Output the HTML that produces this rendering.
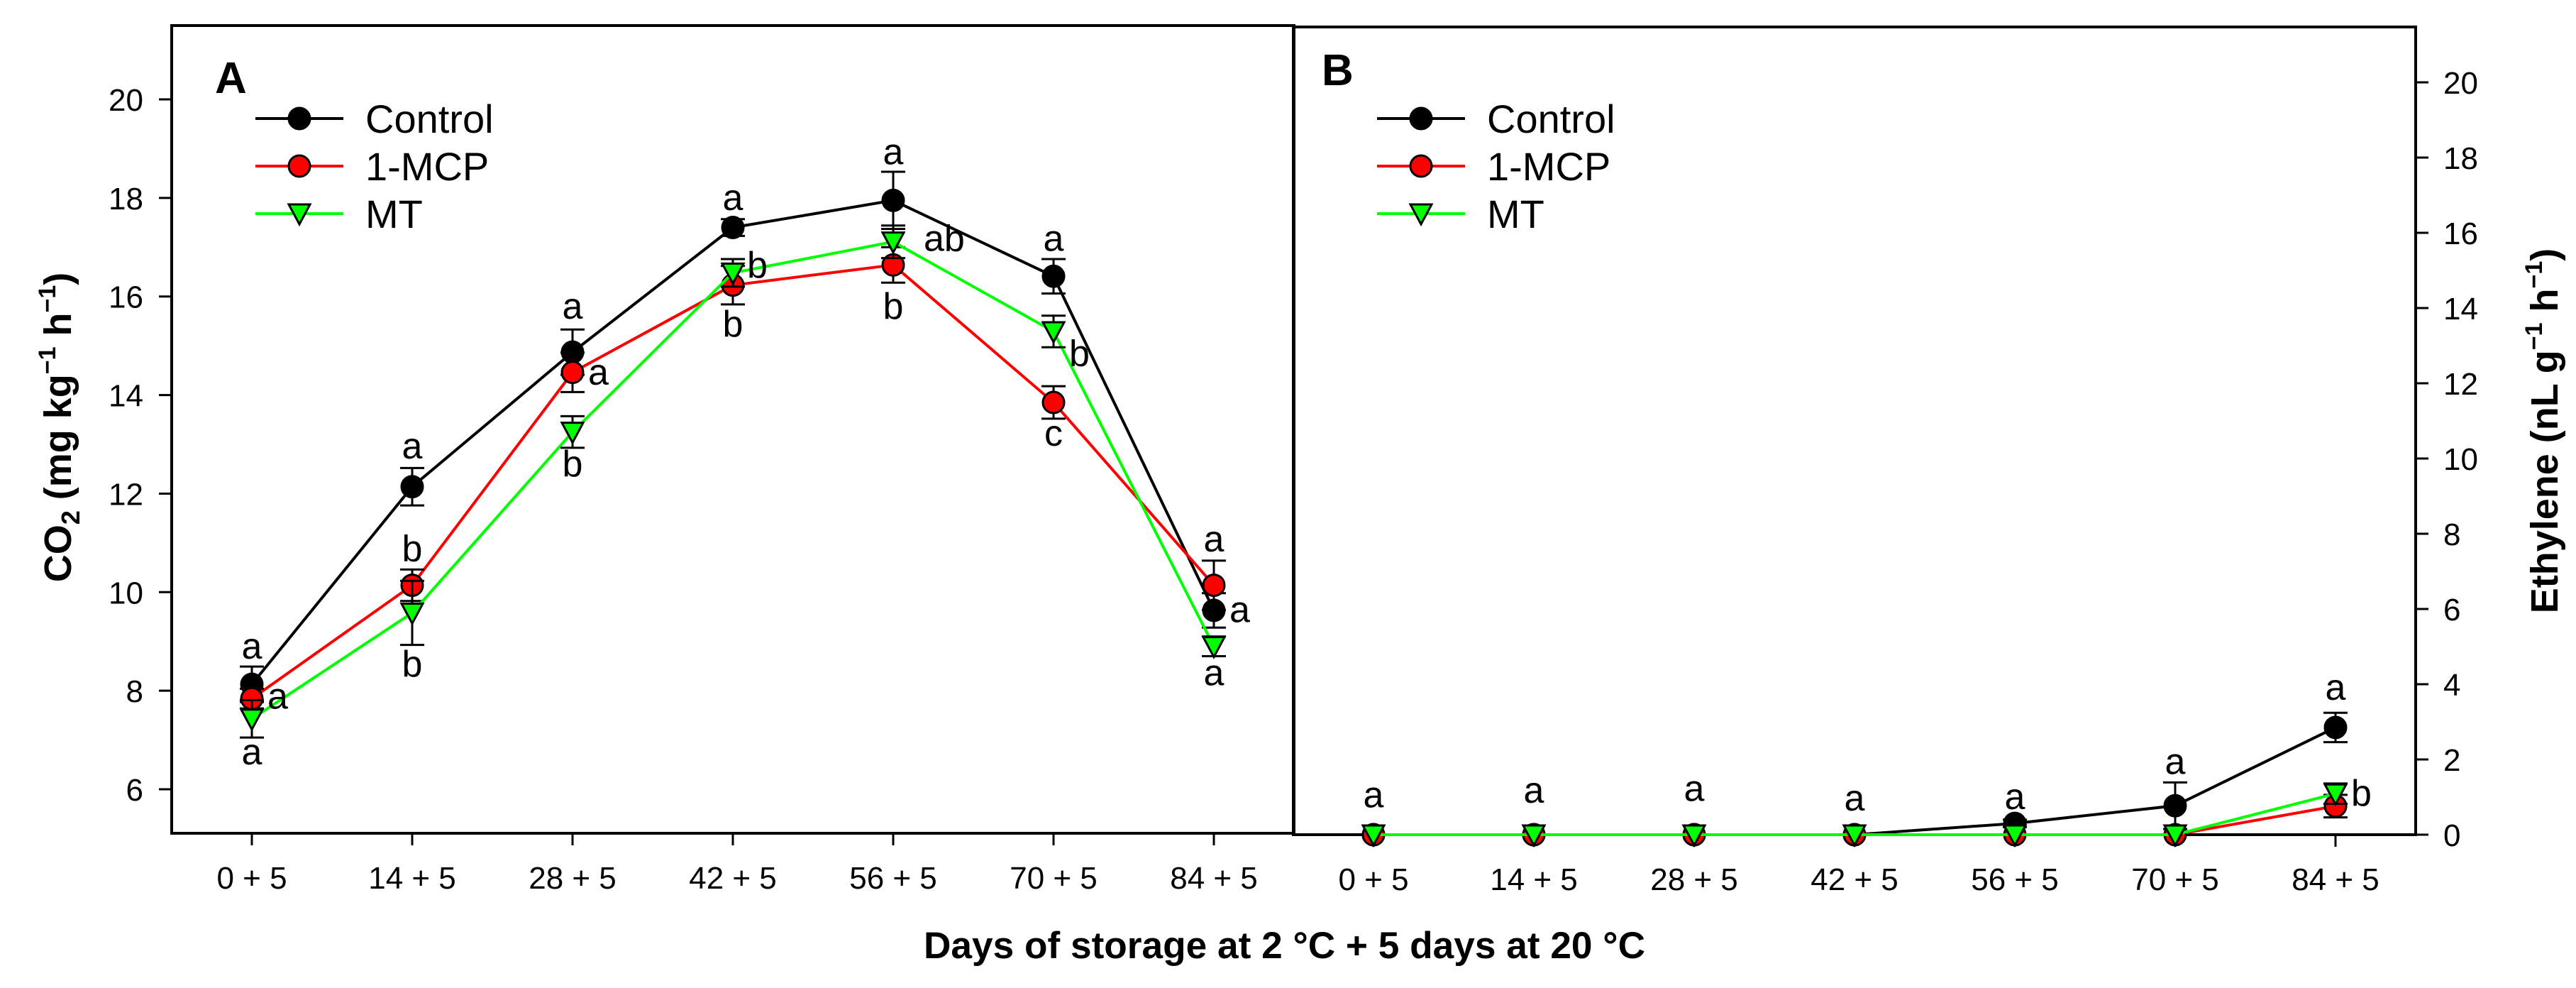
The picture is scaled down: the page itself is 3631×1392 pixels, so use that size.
<!DOCTYPE html>
<html><head><meta charset="utf-8"><style>html,body{margin:0;padding:0;background:#fff}svg{display:block}</style></head>
<body>
<svg id="chart" xmlns="http://www.w3.org/2000/svg" width="3631" height="1392" viewBox="0 0 3631 1392" font-family="Liberation Sans, sans-serif">
<rect x="0" y="0" width="3631" height="1392" fill="#fff"/>
<g id="axes"></g>
<g id="series"></g>
<g id="labels"></g>
</svg>
<script>
const categories = ["0 + 5","14 + 5","28 + 5","42 + 5","56 + 5","70 + 5","84 + 5"];
// Panel A: CO2
const co2Control = [8.13,12.14,14.87,17.40,17.95,16.41,9.63];
const co2ControlErr = [0.36,0.38,0.46,0.17,0.58,0.35,0.35];
const co2Mcp = [7.84,10.14,14.46,16.23,16.64,13.85,10.14];
const co2McpErr = [0.2,0.32,0.4,0.39,0.36,0.33,0.5];
const co2Mt = [7.43,9.58,13.25,16.48,17.11,15.29,8.90];
const co2MtErr = [0.38,0.65,0.32,0.28,0.33,0.32,0.2];
const co2Ticks = [6,8,10,12,14,16,18,20];
// letter labels: [category index, value, dx, text]
const co2Letters = [[0,8.84,0,"a"],[0,7.82,36,"a"],[0,6.69,0,"a"],
 [1,12.9,0,"a"],[1,10.82,0,"b"],[1,8.48,0,"b"],
 [2,15.74,0,"a"],[2,14.4,36,"a"],[2,12.54,0,"b"],
 [3,17.94,0,"a"],[3,16.57,34,"b"],[3,15.38,0,"b"],
 [4,18.87,0,"a"],[4,17.11,57,"ab"],[4,15.74,0,"b"],
 [5,17.11,0,"a"],[5,14.78,36,"b"],[5,13.16,0,"c"],
 [6,11.01,0,"a"],[6,9.58,36,"a"],[6,8.3,0,"a"]];
// Panel B: Ethylene
const ethControl = [0,0,0,0,0.30,0.77,2.85];
const ethControlErr = [0,0,0,0,0.1,0.62,0.39];
const ethMcp = [0,0,0,0,0,0,0.76];
const ethMcpErr = [0,0,0,0,0,0,0.3];
const ethMt = [0,0,0,0,0,0,1.09];
const ethMtErr = [0,0,0,0,0,0,0.27];
const ethTicks = [0,2,4,6,8,10,12,14,16,18,20];
const ethLetters = [[0,0.97,0,"a"],[1,1.09,0,"a"],[2,1.14,0,"a"],[3,0.89,0,"a"],[4,0.92,0,"a"],[5,1.86,0,"a"],[6,3.83,0,"a"],[6,1.02,36,"b"]];

const NS="http://www.w3.org/2000/svg";
function mk(parent,tag,attrs,text){const e=document.createElementNS(NS,tag);for(const k in attrs)e.setAttribute(k,attrs[k]);if(text!==undefined)e.textContent=text;parent.appendChild(e);return e;}
const axes=document.getElementById('axes'),series=document.getElementById('series'),labels=document.getElementById('labels');

const A={x0:242,x1:1824,y0:36,y1:1174,cx0:355,step:226,yv:v=>140+(20-v)*69.43};
const B={x0:1823,x1:3405,y0:38,y1:1176,cx0:1936,step:226,yv:v=>1176-v*53};
function xA(i){return A.cx0+i*A.step;}
function xB(i){return B.cx0+i*B.step;}

function frame(P,name){
  const r=mk(axes,'rect',{x:P.x0,y:P.y0,width:P.x1-P.x0,height:P.y1-P.y0,fill:'none',stroke:'#000','stroke-width':4});
  
  
}
frame(A,'panel-a-frame');frame(B,'panel-b-frame');

// x ticks
function xTicks(P,xf,name){
  categories.forEach((c,i)=>{
    const x=xf(i);
    const t=mk(axes,'line',{x1:x,y1:P.y1,x2:x,y2:P.y1+17,stroke:'#000','stroke-width':3});
    
    
    const l=mk(axes,'text',{x:x,y:P.y1+78,'font-size':44,'text-anchor':'middle'},c);
    
    
  });
}
xTicks(A,xA,'x-axis-a');xTicks(B,xB,'x-axis-b');

co2Ticks.forEach(v=>{
  const y=A.yv(v);
  const t=mk(axes,'line',{x1:A.x0-18,y1:y,x2:A.x0,y2:y,stroke:'#000','stroke-width':3});
  
  
  const l=mk(axes,'text',{x:202,y:y+16,'font-size':44,'text-anchor':'end'},String(v));
  
  
});
ethTicks.forEach(v=>{
  const y=B.yv(v);
  const t=mk(axes,'line',{x1:B.x1,y1:y,x2:B.x1+18,y2:y,stroke:'#000','stroke-width':3});
  
  
  const l=mk(axes,'text',{x:3444,y:y+16,'font-size':44,'text-anchor':'start'},String(v));
  
  
});

// axis titles
let t=mk(axes,'text',{x:0,y:0,'font-size':54,'font-weight':'bold','text-anchor':'middle',transform:'translate(100,602) rotate(-90)'});


t.innerHTML='CO<tspan font-size="36" dy="12">2</tspan><tspan dy="-12"> (mg kg</tspan><tspan font-size="34" dy="-22">−1</tspan><tspan dy="22"> h</tspan><tspan font-size="34" dy="-22">−1</tspan><tspan dy="22">)</tspan>';
t=mk(axes,'text',{x:0,y:0,'font-size':54,'font-weight':'bold','text-anchor':'middle',transform:'translate(3605,607) rotate(-90)'});


t.innerHTML='Ethylene (nL g<tspan font-size="34" dy="-22">−1</tspan><tspan dy="22"> h</tspan><tspan font-size="34" dy="-22">−1</tspan><tspan dy="22">)</tspan>';
t=mk(axes,'text',{x:1302,y:1350,'font-size':53,'font-weight':'bold',textLength:1017,lengthAdjust:'spacingAndGlyphs'},'Days of storage at 2 °C + 5 days at 20 °C');



t=mk(axes,'text',{x:303,y:131,'font-size':62,'font-weight':'bold'},'A');


t=mk(axes,'text',{x:1863,y:120,'font-size':62,'font-weight':'bold'},'B');



function marker(g,kind,x,y,fill){
  if(kind==='tri'){
    return mk(g,'path',{d:`M${x-15},${y-13} L${x+15},${y-13} L${x},${y+15} Z`,fill:fill,stroke:'#000','stroke-width':3,'stroke-linejoin':'miter'});
  }
  return mk(g,'circle',{cx:x,cy:y,r:15,fill:fill,stroke:'#000','stroke-width':3});
}

function drawSeries(P,xf,vals,errs,color,fill,kind,name){
  const g=mk(series,'g',{});
  
  
  const pts=vals.map((v,i)=>xf(i)+','+P.yv(v)).join(' ');
  const pl=mk(g,'polyline',{points:pts,fill:'none',stroke:color,'stroke-width':4});
  
  
  vals.forEach((v,i)=>{
    const x=xf(i),e=errs[i];
    if(e>0){
      const yt=P.yv(v+e),yb=P.yv(v-e);
      const eb=mk(g,'path',{d:`M${x},${yt} L${x},${yb} M${x-17},${yt} L${x+17},${yt} M${x-17},${yb} L${x+17},${yb}`,stroke:'#000','stroke-width':3,fill:'none'});
      
      
    }
  });
  vals.forEach((v,i)=>{
    const m=marker(g,kind,xf(i),P.yv(v),fill);
    
    
  });
}
drawSeries(A,xA,co2Control,co2ControlErr,'#000','#000','circ','co2-control');
drawSeries(A,xA,co2Mcp,co2McpErr,'#ff0000','#ff0000','circ','co2-1mcp');
drawSeries(A,xA,co2Mt,co2MtErr,'#00ff00','#00ff00','tri','co2-mt');
drawSeries(B,xB,ethControl,ethControlErr,'#000','#000','circ','ethylene-control');
drawSeries(B,xB,ethMcp,ethMcpErr,'#ff0000','#ff0000','circ','ethylene-1mcp');
drawSeries(B,xB,ethMt,ethMtErr,'#00ff00','#00ff00','tri','ethylene-mt');

function letters(P,xf,arr,name){
  arr.forEach(a=>{
    const l=mk(labels,'text',{x:xf(a[0])+a[2],y:P.yv(a[1])+13,'font-size':52,'text-anchor':a[2]?'start':'middle'},a[3]);
    if(a[2])l.setAttribute('x',xf(a[0])+a[2]-14);
    
    
  });
}
letters(A,xA,co2Letters,'co2');
letters(B,xB,ethLetters,'ethylene');

function legend(lx,names){
  const items=[['Control','#000','#000','circ'],['1-MCP','#ff0000','#ff0000','circ'],['MT','#00ff00','#00ff00','tri']];
  items.forEach((it,k)=>{
    const y=167+k*67;
    const g=mk(axes,'g',{});
    
    
    mk(g,'line',{x1:lx-62,y1:y,x2:lx+62,y2:y,stroke:it[1],'stroke-width':4});
    marker(g,it[3],lx,y,it[2]);
    mk(g,'text',{x:lx+93,y:y+20,'font-size':56},it[0]);
  });
}
legend(422,'panel-a');
legend(2003,'panel-b');
</script>
</body></html>
